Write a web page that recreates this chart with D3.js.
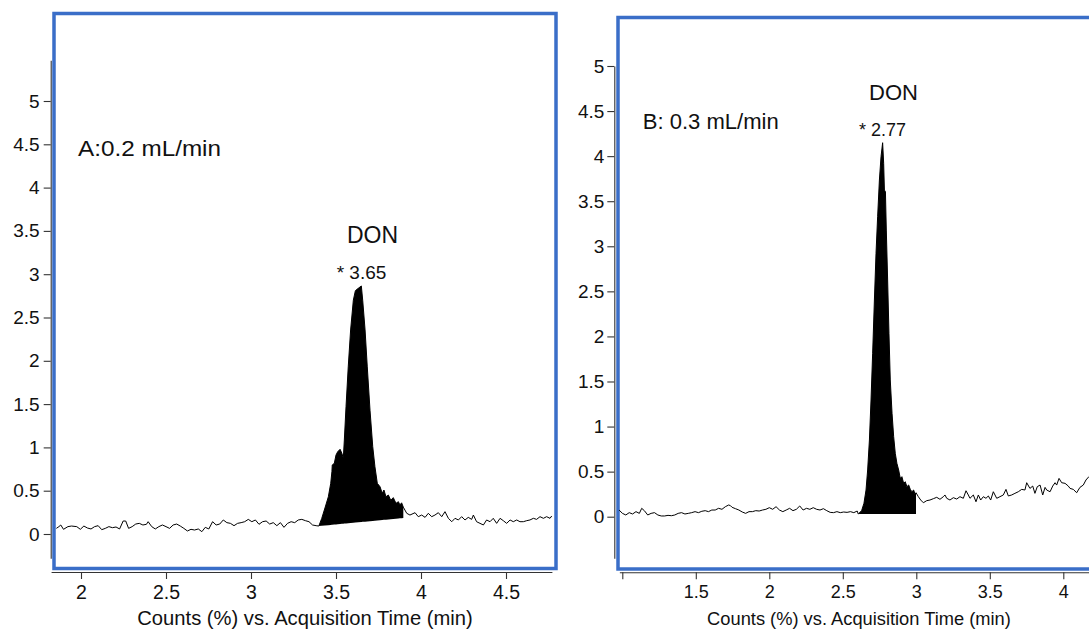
<!DOCTYPE html>
<html>
<head>
<meta charset="utf-8">
<script src="https://cdn.jsdelivr.net/npm/d3@7"></script>
<style>
  html, body { margin: 0; padding: 0; background: #fff; }
  svg { display: block; }
</style>
</head>
<body>
<svg id="chart" width="1089" height="630"></svg>
<script>
// ---------------- data ----------------
const yTicks = [0, 0.5, 1, 1.5, 2, 2.5, 3, 3.5, 4, 4.5, 5];
const yTickLabels = ["0", "0.5", "1", "1.5", "2", "2.5", "3", "3.5", "4", "4.5", "5"];
const xTicksA = [2, 2.5, 3, 3.5, 4, 4.5];
const xTickLabelsA = ["2", "2.5", "3", "3.5", "4", "4.5"];
const xTicksB = [1, 1.5, 2, 2.5, 3, 3.5, 4];
const xTickLabelsB = ["", "1.5", "2", "2.5", "3", "3.5", "4"];
const panelTitles = ["A:0.2 mL/min", "B: 0.3 mL/min"];
const compoundName = "DON";
const retentionTimes = [3.65, 2.77];
const xAxisTitle = "Counts (%) vs. Acquisition Time (min)";

// chromatogram A, 0.2 mL/min: [time (min), counts (%)]
const traceA = [
  [1.855,0.065],[1.870,0.085],[1.881,0.104],[1.897,0.054],[1.923,0.085],[1.944,0.092],[1.975,0.085],[1.996,0.054],
  [2.017,0.092],[2.038,0.069],[2.059,0.058],[2.080,0.085],[2.101,0.096],[2.122,0.050],[2.143,0.065],[2.164,0.085],
  [2.185,0.073],[2.206,0.081],[2.227,0.058],[2.248,0.150],[2.263,0.150],[2.280,0.065],[2.301,0.085],[2.322,0.115],
  [2.343,0.123],[2.364,0.104],[2.385,0.112],[2.395,0.142],[2.416,0.085],[2.437,0.058],[2.458,0.085],[2.479,0.104],
  [2.500,0.085],[2.521,0.065],[2.542,0.104],[2.563,0.115],[2.584,0.092],[2.605,0.065],[2.626,0.035],[2.647,0.054],
  [2.668,0.046],[2.690,0.058],[2.711,0.027],[2.731,0.077],[2.752,0.058],[2.774,0.142],[2.795,0.104],[2.816,0.115],
  [2.837,0.162],[2.858,0.131],[2.879,0.123],[2.900,0.096],[2.921,0.123],[2.942,0.131],[2.963,0.142],[2.984,0.169],
  [3.005,0.142],[3.026,0.162],[3.047,0.112],[3.068,0.142],[3.089,0.150],[3.110,0.115],[3.131,0.131],[3.152,0.096],
  [3.173,0.131],[3.194,0.077],[3.215,0.123],[3.236,0.142],[3.257,0.131],[3.278,0.162],[3.299,0.169],[3.320,0.154],
  [3.341,0.142],[3.362,0.104],[3.383,0.096],[3.399,0.092],
  [3.416,0.180],[3.435,0.300],[3.455,0.430],[3.469,0.585],[3.476,0.720],[3.478,0.797],[3.490,0.816],[3.500,0.912],
  [3.510,0.950],[3.524,0.978],[3.535,0.930],[3.543,0.874],[3.549,1.085],[3.559,1.470],[3.572,1.930],[3.586,2.356],
  [3.602,2.700],[3.614,2.810],[3.631,2.837],[3.649,2.864],[3.657,2.700],[3.671,2.356],[3.684,1.930],[3.700,1.430],
  [3.716,1.010],[3.729,0.777],[3.743,0.585],[3.759,0.546],[3.772,0.470],[3.782,0.508],[3.794,0.430],[3.808,0.450],
  [3.822,0.390],[3.837,0.420],[3.853,0.354],[3.867,0.373],[3.876,0.335],[3.886,0.360],[3.896,0.310],
  [3.916,0.239],[3.935,0.219],[3.965,0.246],[3.984,0.200],[4.004,0.219],[4.024,0.192],[4.043,0.239],[4.063,0.200],
  [4.082,0.219],[4.102,0.246],[4.122,0.200],[4.141,0.258],[4.161,0.181],[4.181,0.142],[4.200,0.181],[4.220,0.162],
  [4.239,0.200],[4.259,0.162],[4.278,0.192],[4.298,0.169],[4.308,0.219],[4.327,0.142],[4.347,0.123],[4.367,0.104],
  [4.386,0.162],[4.406,0.142],[4.425,0.181],[4.445,0.123],[4.465,0.181],[4.484,0.154],[4.504,0.123],[4.524,0.162],
  [4.543,0.142],[4.563,0.162],[4.582,0.142],[4.602,0.142],[4.622,0.154],[4.641,0.162],[4.661,0.181],[4.680,0.169],
  [4.700,0.200],[4.720,0.181],[4.739,0.200],[4.759,0.181],[4.769,0.208]
];

// chromatogram B, 0.3 mL/min: [time (min), counts (%)]
const traceB = [
  [0.978,0.074],[1.001,0.037],[1.024,0.019],[1.047,0.045],[1.070,0.030],[1.093,0.056],[1.116,0.037],[1.132,0.093],
  [1.150,0.067],[1.173,0.019],[1.196,0.037],[1.219,0.045],[1.242,0.019],[1.265,0.008],[1.288,0.008],[1.311,0.015],
  [1.334,0.011],[1.357,0.019],[1.380,0.037],[1.403,0.045],[1.426,0.030],[1.449,0.037],[1.472,0.045],[1.495,0.056],
  [1.518,0.045],[1.541,0.060],[1.564,0.067],[1.586,0.056],[1.609,0.074],[1.632,0.074],[1.655,0.093],[1.678,0.082],
  [1.701,0.111],[1.724,0.130],[1.736,0.122],[1.747,0.104],[1.770,0.089],[1.793,0.074],[1.816,0.052],[1.839,0.037],
  [1.862,0.056],[1.885,0.056],[1.908,0.067],[1.931,0.063],[1.954,0.074],[1.977,0.082],[2.000,0.100],[2.023,0.082],
  [2.046,0.111],[2.069,0.074],[2.092,0.056],[2.115,0.074],[2.138,0.093],[2.161,0.067],[2.184,0.082],[2.207,0.119],
  [2.230,0.074],[2.253,0.093],[2.276,0.082],[2.299,0.100],[2.322,0.082],[2.345,0.074],[2.368,0.089],[2.391,0.067],
  [2.414,0.048],[2.437,0.045],[2.460,0.056],[2.483,0.045],[2.506,0.052],[2.529,0.048],[2.552,0.056],[2.575,0.045],
  [2.598,0.063],
  [2.605,0.030],[2.628,0.067],[2.644,0.149],[2.658,0.296],[2.669,0.518],[2.681,0.851],[2.692,1.295],[2.703,1.813],
  [2.715,2.404],[2.726,2.922],[2.737,3.328],[2.749,3.735],[2.760,3.994],[2.771,4.149],[2.778,3.920],[2.783,3.624],
  [2.790,3.605],[2.796,3.180],[2.805,2.626],[2.814,2.035],[2.823,1.517],[2.835,1.147],[2.846,0.888],[2.857,0.703],
  [2.868,0.592],[2.880,0.518],[2.891,0.426],[2.902,0.444],[2.914,0.370],[2.925,0.388],[2.936,0.333],[2.948,0.352],
  [2.959,0.304],[2.970,0.277],[2.982,0.296],[2.991,0.252],[2.998,0.266],
  [3.014,0.222],[3.030,0.185],[3.048,0.155],[3.071,0.178],[3.093,0.185],[3.116,0.200],[3.139,0.215],[3.161,0.193],
  [3.184,0.222],[3.195,0.241],[3.207,0.204],[3.229,0.185],[3.252,0.211],[3.275,0.196],[3.297,0.222],[3.320,0.204],
  [3.338,0.288],[3.354,0.241],[3.365,0.204],[3.388,0.241],[3.406,0.166],[3.422,0.241],[3.438,0.185],[3.456,0.222],
  [3.474,0.204],[3.490,0.230],[3.506,0.185],[3.524,0.277],[3.547,0.204],[3.569,0.222],[3.592,0.241],[3.610,0.303],
  [3.626,0.230],[3.649,0.241],[3.671,0.259],[3.694,0.277],[3.717,0.303],[3.739,0.296],[3.751,0.377],[3.773,0.314],
  [3.792,0.340],[3.807,0.259],[3.823,0.333],[3.842,0.351],[3.860,0.241],[3.876,0.325],[3.887,0.296],[3.910,0.277],
  [3.928,0.340],[3.944,0.377],[3.955,0.351],[3.971,0.425],[3.989,0.377],[4.012,0.370],[4.034,0.340],[4.046,0.314],
  [4.068,0.303],[4.091,0.266],[4.113,0.325],[4.136,0.351],[4.154,0.407],[4.174,0.444],[4.190,0.420]
];

// integration baselines (start and end of the filled peak area)
const integrationA = [[3.399, 0.092], [3.896, 0.185]];
const integrationB = [[2.605, 0.030], [2.998, 0.030]];

// ---------------- layout ----------------
const FONT = "'Liberation Sans', Arial, Helvetica, sans-serif";
const FRAME_COLOR = "#3a6ec8";
const AXIS_COLOR = "#333";

const panels = [
  {
    trace: traceA, integration: integrationA, rt: retentionTimes[0], title: panelTitles[0],
    xTicks: xTicksA, xTickLabels: xTickLabelsA,
    xDomain: [2, 4.5], xRange: [81, 506], yDomain: [0, 5], yRange: [534, 101],
    xAxisExtent: [1.824, 4.77], xAxisY: 572, yAxisExtent: [-0.28, 5.47], yAxisX: 50.7,
    frame: { x0: 54, y0: 13.5, x1: 556, y1: 568.5 },
    titlePos: [78, 156], titleSize: 22.5, titleWidth: 143,
    yTickFont: 19, yTickPad: 4, xTickFont: 19.5,
    axisTitleSize: 20.2, axisTitlePos: [305, 625],
    rtSize: 19, compoundSize: 23
  },
  {
    trace: traceB, integration: integrationB, rt: retentionTimes[1], title: panelTitles[1],
    xTicks: xTicksB, xTickLabels: xTickLabelsB,
    xDomain: [1, 4], xRange: [622.3, 1063.3], yDomain: [0, 5], yRange: [516.7, 66],
    xAxisExtent: [0.98, 4.6], xAxisY: 572.3, yAxisExtent: [-0.46, 5.0], yAxisX: 614.3,
    frame: { x0: 618, y0: 17.5, x1: 1110, y1: 569 },
    titlePos: [642.7, 129.3], titleSize: 22, titleWidth: 136,
    yTickFont: 19, yTickPad: 3, xTickFont: 18,
    axisTitleSize: 18.3, axisTitlePos: [859, 625],
    rtSize: 18, compoundSize: 22
  }
];

const svg = d3.select("#chart");

panels.forEach(P => {
  const x = d3.scaleLinear().domain(P.xDomain).range(P.xRange);
  const y = d3.scaleLinear().domain(P.yDomain).range(P.yRange);
  const g = svg.append("g");

  // blue frame around the plotting area
  g.append("rect")
    .attr("x", P.frame.x0).attr("y", P.frame.y0)
    .attr("width", P.frame.x1 - P.frame.x0).attr("height", P.frame.y1 - P.frame.y0)
    .attr("fill", "none").attr("stroke", FRAME_COLOR).attr("stroke-width", 3.5);

  // axes, drawn over their own extent
  const xAxisScale = x.copy().domain(P.xAxisExtent).range(P.xAxisExtent.map(x));
  const yAxisScale = y.copy().domain(P.yAxisExtent).range(P.yAxisExtent.map(y));

  const xAxis = g.append("g")
    .attr("transform", `translate(0,${P.xAxisY})`)
    .call(d3.axisBottom(xAxisScale)
      .tickValues(P.xTicks)
      .tickFormat((d, i) => P.xTickLabels[i])
      .tickSize(7).tickSizeOuter(0).tickPadding(6));
  xAxis.selectAll("text").attr("font-family", FONT).attr("font-size", P.xTickFont).attr("fill", "#111");

  const yAxis = g.append("g")
    .attr("transform", `translate(${P.yAxisX},0)`)
    .call(d3.axisLeft(yAxisScale)
      .tickValues(yTicks)
      .tickFormat((d, i) => yTickLabels[i])
      .tickSize(7).tickSizeOuter(0).tickPadding(P.yTickPad));
  yAxis.selectAll("text").attr("font-family", FONT).attr("font-size", P.yTickFont).attr("fill", "#111");

  [xAxis, yAxis].forEach(a => {
    a.select(".domain").attr("stroke", AXIS_COLOR).attr("stroke-width", 1.1);
    a.selectAll(".tick line").attr("stroke", AXIS_COLOR).attr("stroke-width", 1.1);
  });

  // filled peak between the trace and the integration baseline
  const [s, e] = P.integration;
  const baseAt = t => s[1] + (e[1] - s[1]) * (t - s[0]) / (e[0] - s[0]);
  const peakPts = P.trace.filter(d => d[0] >= s[0] && d[0] <= e[0]);
  g.append("path")
    .datum(peakPts)
    .attr("fill", "#000")
    .attr("d", d3.area()
      .x(d => x(d[0]))
      .y0(d => y(baseAt(d[0])))
      .y1(d => y(d[1])));

  // trace
  g.append("path")
    .datum(P.trace)
    .attr("fill", "none")
    .attr("stroke", "#000")
    .attr("stroke-width", 1)
    .attr("stroke-linejoin", "round")
    .attr("d", d3.line().x(d => x(d[0])).y(d => y(d[1])));

  // panel title
  g.append("text")
    .attr("x", P.titlePos[0]).attr("y", P.titlePos[1])
    .attr("font-family", FONT).attr("font-size", P.titleSize).attr("fill", "#111")
    .attr("textLength", P.titleWidth).attr("lengthAdjust", "spacingAndGlyphs")
    .text(P.title);

  // peak annotation: retention time and compound name
  const apex = d3.max(peakPts, d => d[1]);
  const rtY = y(apex) - 6.5;
  g.append("text")
    .attr("x", x(P.rt)).attr("y", rtY)
    .attr("text-anchor", "middle")
    .attr("font-family", FONT).attr("font-size", P.rtSize).attr("fill", "#111")
    .text("* " + P.rt.toFixed(2));
  g.append("text")
    .attr("x", x(P.rt) + 11).attr("y", rtY - 36)
    .attr("text-anchor", "middle")
    .attr("font-family", FONT).attr("font-size", P.compoundSize).attr("fill", "#111")
    .text(compoundName);

  // x axis title
  g.append("text")
    .attr("x", P.axisTitlePos[0]).attr("y", P.axisTitlePos[1])
    .attr("text-anchor", "middle")
    .attr("font-family", FONT).attr("font-size", P.axisTitleSize).attr("fill", "#111")
    .text(xAxisTitle);
});
</script>
</body>
</html>
